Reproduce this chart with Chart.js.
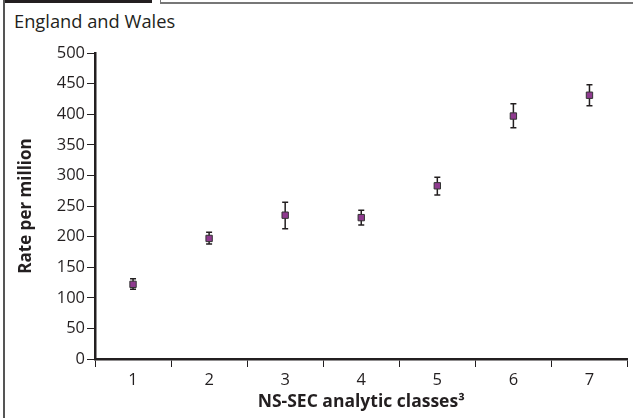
<!DOCTYPE html>
<html>
<head>
<meta charset="utf-8">
<script src="https://cdn.jsdelivr.net/npm/chart.js@4"></script>
<style>
  html, body { margin: 0; padding: 0; background: #fff; }
  #wrap { position: relative; width: 633px; height: 418px; overflow: hidden; }
  #frameLeft { position: absolute; left: 3px; top: 0; width: 2px; height: 418px; background: #555; }
  #tab { position: absolute; left: 5px; top: 0; width: 147px; height: 3px; background: #231f20; }
  #box { position: absolute; left: 160px; top: -4px; width: 480px; height: 5px; border: 1px solid #777; border-bottom-width: 2px; }
  #region { position: absolute; left: 14px; top: 8px; font: 18.3px "Open Sans", sans-serif; color: #231f20; }
  canvas { position: absolute; left: 0; top: 0; }
</style>
</head>
<body>
<div id="wrap">
  <div id="frameLeft"></div>
  <div id="tab"></div>
  <div id="box"></div>
  <div id="region">England and Wales</div>
  <canvas id="rateChart" width="633" height="418"></canvas>
</div>
<script>
// NS-SEC analytic classes
const classes = ['1', '2', '3', '4', '5', '6', '7'];
// rate per million, point estimate
const rates = [122, 197, 235, 231, 283, 397, 431];
// confidence interval bounds
const lowerCI = [114, 188, 213, 219, 268, 378, 414];
const upperCI = [131, 207, 256, 243, 297, 417, 448];

const errorBars = {
  id: 'errorBars',
  beforeDatasetsDraw(chart) {
    const ctx = chart.ctx;
    const x = chart.scales.x;
    const y = chart.scales.y;
    ctx.save();
    ctx.strokeStyle = '#231f20';
    ctx.lineWidth = 1.5;
    for (let i = 0; i < classes.length; i++) {
      const px = x.getPixelForValue(i);
      const lo = y.getPixelForValue(lowerCI[i]);
      const hi = y.getPixelForValue(upperCI[i]);
      ctx.beginPath();
      ctx.moveTo(px, lo);
      ctx.lineTo(px, hi);
      ctx.moveTo(px - 3, lo);
      ctx.lineTo(px + 3, lo);
      ctx.moveTo(px - 3, hi);
      ctx.lineTo(px + 3, hi);
      ctx.stroke();
    }
    ctx.restore();
  }
};

const ctx = document.getElementById('rateChart').getContext('2d');
new Chart(ctx, {
  type: 'line',
  data: {
    labels: classes,
    datasets: [{
      label: 'Rate per million',
      data: rates,
      showLine: false,
      pointStyle: 'rect',
      pointRadius: 4.5,
      pointBackgroundColor: '#8f3a8f',
      pointBorderColor: '#333',
      pointBorderWidth: 1
    }]
  },
  plugins: [errorBars],
  options: {
    responsive: false,
    animation: false,
    layout: { padding: { left: 14, right: 1, top: 53, bottom: 0 } },
    plugins: { legend: { display: false }, tooltip: { enabled: false } },
    scales: {
      x: {
        offset: true,
        grid: { offset: true, drawOnChartArea: false, tickLength: 8, color: '#231f20', lineWidth: 1 },
        border: { color: '#231f20', width: 2.5 },
        ticks: { color: '#231f20', padding: 3, font: { family: 'Open Sans', size: 16.5 } },
        title: {
          display: true,
          text: 'NS-SEC analytic classes³',
          color: '#231f20',
          font: { family: 'Open Sans', size: 17.5, weight: 'bold' },
          padding: { top: 2, bottom: 5 }
        },
        afterFit(scale) { scale.height = 59; }
      },
      y: {
        min: 0,
        max: 500,
        ticks: { stepSize: 50, color: '#231f20', padding: 2, font: { family: 'Open Sans', size: 16.5 } },
        grid: { drawOnChartArea: false, tickLength: 8, color: '#231f20', lineWidth: 1 },
        border: { color: '#231f20', width: 2.5 },
        title: {
          display: true,
          text: 'Rate per million',
          color: '#231f20',
          font: { family: 'Open Sans', size: 17, weight: 'bold' },
          padding: { top: 2, bottom: 0 }
        },
        afterFit(scale) { scale.width = 81; }
      }
    }
  }
});
</script>
</body>
</html>
